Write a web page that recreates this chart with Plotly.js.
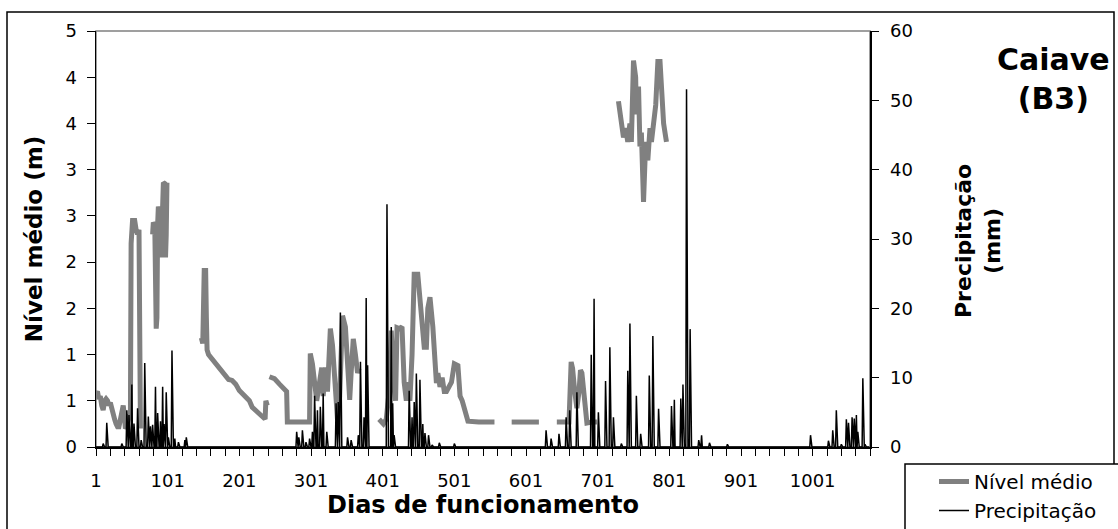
<!DOCTYPE html>
<html>
<head>
<meta charset="utf-8">
<script src="https://cdn.plot.ly/plotly-3.0.1.min.js"></script>
<style>html,body{margin:0;padding:0;background:#fff;}#chart{width:1118px;height:529px;}</style>
</head>
<body>
<div id="chart"></div>
<script>
// Nível médio (m) – day / value pairs; null breaks the line where there are no readings
const nivelDias = [
  1,3,5,7,9,11,13,15,17,19,21,23,25,27,29,31,33,35,37,39,41,42,44,46,48,49,50,52,55,57,59,61,62,63, null,
  80,81,83,84,85,86,87,88,90,91,92,94,95,97,98,99,100, null,
  148,150,152,154,155,156,158,163,168,173,178,183,186,191,196,201,205,211,215,219,224,229,233,236,237,238,240, null,
  243,250,257,264,267,268,280,290,299,300,303,309,311,316,318,321,324,328,331,334,338,341,345,349,352,355,357,360,363,366,368, null,
  396,402,406,410,413,416,419,421,424,428,431,434,437,439,442,445,450,455,459,462,464,467,471,476,478,481,484,487,490,497,501,506,509,512,516,520,535,557, null,
  581,600,619, null,
  644,661,664,666,669,672,675,677,679,682,686,693,700, null,
  730,734,737,740,743,746,748,751,754,755,758,760,762,765,768,771,774,776,779,782,785,788,790,793,796,797
];
const nivelValores = [
  0.58,0.6,0.52,0.55,0.45,0.4,0.5,0.52,0.5,0.45,0.48,0.4,0.35,0.3,0.25,0.22,0.22,0.3,0.43,0.45,0.3,0.2,0.22,0.3,0.35,0.3,2.2,2.45,2.45,2.35,2.3,2.35,1.2,0.2, null,
  2.3,2.43,2.4,1.8,1.28,1.4,2.4,2.6,2.55,2.2,2.05,2.6,2.86,2.85,2.05,2.3,2.86, null,
  1.18,1.12,1.91,1.91,1.4,1.05,1.0,0.95,0.9,0.85,0.82,0.77,0.73,0.72,0.68,0.61,0.58,0.53,0.5,0.43,0.4,0.36,0.33,0.31,0.3,0.5,0.45, null,
  0.76,0.74,0.68,0.63,0.6,0.27,0.27,0.27,0.27,1.01,0.9,0.5,0.6,0.86,0.55,0.86,0.6,1.28,1.1,0.75,0.29,0.55,1.42,1.3,0.9,0.51,0.8,1.17,1.0,0.8,0.85, null,
  0.3,0.25,0.3,0.6,1.26,0.7,0.5,1.29,1.28,1.3,0.7,0.5,0.7,0.5,1.0,1.87,1.87,1.5,1.08,1.08,1.5,1.62,1.3,0.69,0.8,0.65,0.75,0.6,0.6,0.7,0.9,0.88,0.55,0.5,0.38,0.28,0.27,0.27, null,
  0.27,0.27,0.27, null,
  0.27,0.27,0.92,0.85,0.6,0.42,0.6,0.83,0.8,0.55,0.26,0.27,0.27, null,
  3.74,3.55,3.35,3.45,3.3,3.5,3.3,4.18,4.0,3.6,3.9,3.25,3.4,2.65,3.3,3.1,3.45,3.3,3.56,3.7,4.17,4.17,3.9,3.5,3.35,3.3
];

// Precipitação (mm) – days with rain; every other day of the record is 0
const precDias = [
  11,16,37,44,47,51,54,59,64,69,74,77,80,84,87,91,94,96,99,102,107,111,116,125,127,
  281,284,289,294,299,303,306,310,314,318,323,336,339,342,352,357,367,370,375,378,380,407,413,415,417,438,442,445,448,453,457,460,465,470,480,501,
  629,636,647,657,662,672,692,696,702,712,718,723,734,743,746,755,761,773,778,786,804,808,817,820,825,830,842,846,857,882,
  998,1023,1029,1034,1041,1048,1051,1056,1059,1062,1064,1071,1074
];
const precValores = [
  0.5,3.5,0.5,5.3,4.6,9.0,3.4,5.6,1.0,12.1,4.4,3.0,3.2,8.7,4.9,3.7,8.7,3.3,7.9,1.4,13.9,1.2,0.7,1.0,1.4,
  2.2,1.4,2.4,0.7,1.2,2.2,7.4,5.3,5.8,7.7,2.2,6.3,6.5,19.4,1.4,1.0,1.7,12.3,4.3,21.5,11.8,35.0,17.3,6.3,1.7,8.1,4.3,6.5,10.6,9.7,3.3,2.0,1.7,0.3,0.6,0.5,
  2.4,1.2,1.9,4.3,5.3,7.9,13.3,21.4,5.0,9.5,14.4,4.3,0.5,11.0,17.8,7.4,1.9,10.3,16.0,5.5,5.9,6.8,7.0,9.0,51.6,17.0,1.0,1.7,0.6,0.4,
  1.7,0.9,2.4,5.3,0.4,4.0,3.5,4.3,4.1,4.6,2.2,9.9,0.4
];
const ultimoDia = 1080;

const nivelTicks = [0,0.5,1,1.5,2,2.5,3,3.5,4,4.5];
const nivelTickLabels = ["0","1","1","2","2","3","3","4","4","5"];

const serieNivel = "Nível médio";
const seriePrec = "Precipitação";
const tituloX = "Dias de funcionamento";
const tituloY = "Nível médio (m)";
const tituloY2 = "Precipitação<br>(mm)";
const rotulo = "Caiave<br>(B3)";

// full daily precipitation record
const diasTodos = [];
const precTodos = [];
for (let d = 1; d <= ultimoDia; d++) { diasTodos.push(d); precTodos.push(0); }
precDias.forEach((d, i) => { precTodos[d - 1] = precValores[i]; });

const FONT = "DejaVu Sans, Verdana, sans-serif";

const traces = [
  {
    x: nivelDias, y: nivelValores, name: serieNivel, type: "scatter", mode: "lines",
    line: {color: "#808080", width: 5}, connectgaps: false, yaxis: "y"
  },
  {
    x: diasTodos, y: precTodos, name: seriePrec, type: "scatter", mode: "lines",
    line: {color: "#000000", width: 1.5}, yaxis: "y2"
  }
];

// pixel helpers for paper coordinates (plot: x 96..870, y 31..447)
const W = 1118, H = 529;
const L = 96, R = 870, T = 31, B = 447;
const px = v => (v - L) / (R - L);
const py = v => (B - v) / (B - T);

const layout = {
  width: W, height: H,
  margin: {l: L, r: W - R, t: T, b: H - B, pad: 0},
  paper_bgcolor: "#ffffff", plot_bgcolor: "#ffffff",
  font: {family: FONT, color: "#000000", size: 18},
  showlegend: true,
  legend: {
    xref: "container", yref: "container",
    x: 934 / W, y: 1 - 462 / H, xanchor: "left", yanchor: "top",
    bgcolor: "rgba(0,0,0,0)", borderwidth: 0,
    font: {family: FONT, size: 20, color: "#000"}, tracegroupgap: 0
  },
  xaxis: {
    range: [1, 1081], tickmode: "linear", tick0: 1, dtick: 100,
    ticks: "outside", ticklen: 7, tickwidth: 1, tickcolor: "#000",
    minor: {tickmode: "linear", tick0: 1, dtick: 20, ticks: "outside", ticklen: 7, tickwidth: 1, tickcolor: "#000", showgrid: false},
    showline: true, linecolor: "#000", linewidth: 1.5, showgrid: false, zeroline: false,
    tickfont: {family: FONT, size: 18, color: "#000"}, ticklabelstandoff: 10,
    title: {text: tituloX, font: {family: FONT, size: 24, color: "#000", weight: "bold"}, standoff: 2}
  },
  yaxis: {
    range: [0, 4.5], tickmode: "array", tickvals: nivelTicks, ticktext: nivelTickLabels,
    ticks: "outside", ticklen: 8, tickcolor: "#000",
    showline: true, linecolor: "#000", linewidth: 1.5, showgrid: false, zeroline: false,
    tickfont: {family: FONT, size: 18, color: "#000"}, ticklabelstandoff: 6,
    title: {text: tituloY, font: {family: FONT, size: 23, color: "#000", weight: "bold"}, standoff: 16}
  },
  yaxis2: {
    range: [0, 60], overlaying: "y", side: "right", tickmode: "linear", tick0: 0, dtick: 10,
    ticks: "outside", ticklen: 7, tickcolor: "#000",
    showline: true, linecolor: "#000", linewidth: 1.5, showgrid: false, zeroline: false,
    tickfont: {family: FONT, size: 18, color: "#000"}, ticklabelstandoff: 8
  },
  shapes: [
    {type: "rect", xref: "paper", yref: "paper", x0: 0, x1: 1, y0: 0, y1: 1,
     line: {color: "#808080", width: 1.5}, layer: "below"},
    {type: "rect", xref: "paper", yref: "paper", x0: px(7), x1: px(1114), y0: py(545), y1: py(12),
     line: {color: "#000", width: 1.5}, layer: "below"},
    {type: "rect", xref: "paper", yref: "paper", x0: px(905), x1: px(1125), y0: py(545), y1: py(464),
     line: {color: "#000", width: 1.5}, fillcolor: "#ffffff", layer: "below"}
  ],
  annotations: [
    {text: rotulo, xref: "paper", yref: "paper", x: px(1053), y: py(79), xanchor: "center", yanchor: "middle",
     showarrow: false, align: "center", font: {family: FONT, size: 30, color: "#000", weight: "bold"}},
    {text: tituloY2, xref: "paper", yref: "paper", x: px(978), y: py(241), xanchor: "center", yanchor: "middle",
     textangle: -90, showarrow: false, align: "center", font: {family: FONT, size: 22, color: "#000", weight: "bold"}}
  ]
};

Plotly.newPlot("chart", traces, layout, {displayModeBar: false, staticPlot: true});
</script>
</body>
</html>
